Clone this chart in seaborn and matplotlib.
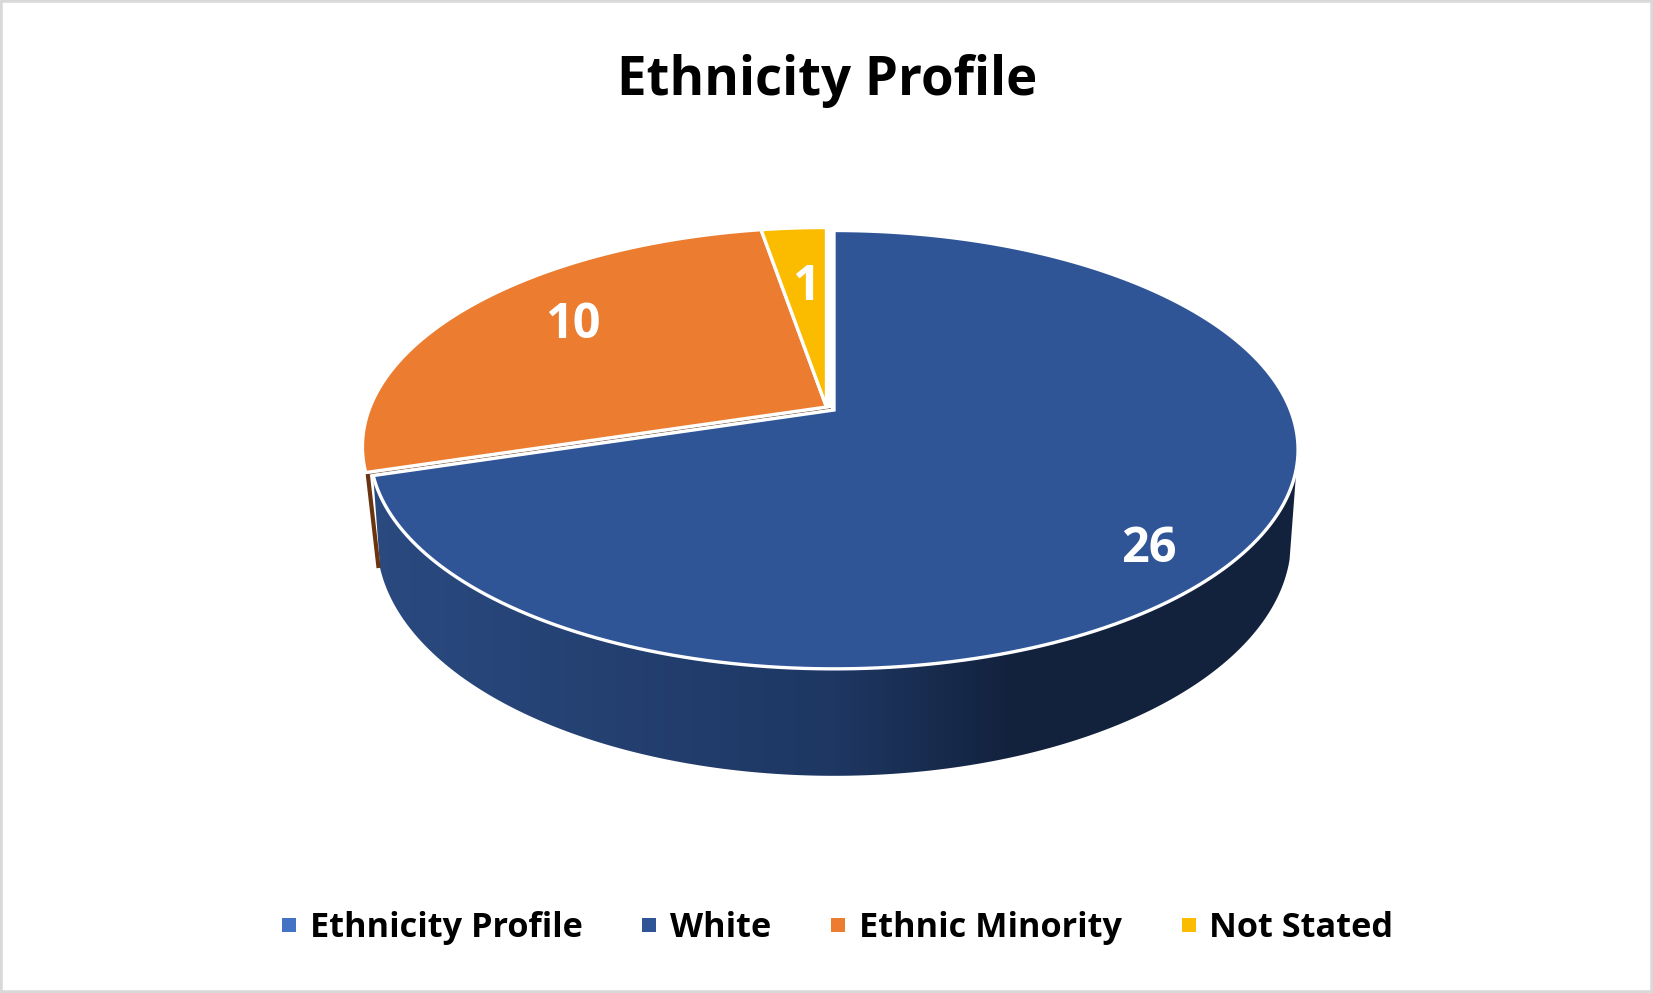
import numpy as np
import matplotlib
matplotlib.use("Agg")
import matplotlib.pyplot as plt
from matplotlib.colors import LinearSegmentedColormap
from matplotlib.lines import Line2D
from matplotlib.patches import Polygon
import seaborn as sns

# Survey counts
categories = ["Ethnicity Profile", "White", "Ethnic Minority", "Not Stated"]
counts = [0, 26, 10, 1]
slice_colors = ["#4472C4", "#2F5597", "#EB7C30", "#FBBC00"]

sns.set_theme(style="white")
plt.rcParams["font.family"] = ["Open Sans", "DejaVu Sans"]
palette = sns.color_palette(slice_colors)

W, H = 1653, 993
fig, ax = plt.subplots(figsize=(W / 100, H / 100), dpi=100)
fig.subplots_adjust(0, 0, 1, 1)

# Perspective disc: unit circle seen from above and in front
RX, RY, PERSP = 456.4, 212.0, 0.181
DEPTH, BASE_SHRINK = 87.6, 0.985


def rim(theta, r=1.0):
    """Screen offsets of a disc point; theta runs clockwise from twelve o'clock."""
    x, y = r * np.sin(theta), r * np.cos(theta)
    s = 1 / (1 + PERSP * y)
    return RX * x * s, -RY * y * s, s


def wedge(apex, t0, t1):
    t = np.linspace(t0, t1, 200)
    dx, dy, _ = rim(t)
    return np.column_stack([np.r_[apex[0], apex[0] + dx], np.r_[apex[1], apex[1] + dy]])


total = sum(counts)
edges = np.r_[0, np.cumsum(np.array(counts[1:]) / total * 2 * np.pi)]
main_apex = (834, 410)
small_apex = (826.5, 407)

# Side wall of the large slice, shaded from left to right
t_wall = np.linspace(np.radians(105), edges[1], 300)
dx, dy, s = rim(t_wall)
top = np.column_stack([main_apex[0] + dx, main_apex[1] + dy])
bottom = np.column_stack([main_apex[0] + dx * BASE_SHRINK, main_apex[1] + dy + DEPTH * s])
wall = Polygon(np.vstack([top, bottom[::-1]]), closed=True, facecolor="none", edgecolor="none")
ax.add_patch(wall)
shade = LinearSegmentedColormap.from_list(
    "wall", [(0, "#2A4A80"), (0.5, "#1E3763"), (0.7, "#12213C"), (1, "#12213C")]
)
im = ax.imshow(
    np.linspace(0, 1, 256).reshape(1, -1), cmap=shade, aspect="auto",
    extent=(370, 1300, 800, 440), zorder=1,
)
im.set_clip_path(wall)

# Thin wall of the orange slice showing behind the large slice
ox, oy, os_ = rim(edges[1])
ax.plot(
    [small_apex[0] + ox + 2, small_apex[0] + ox * BASE_SHRINK + 6],
    [small_apex[1] + oy + 1, small_apex[1] + oy + DEPTH * os_ + 3],
    color="#6B3410", lw=3, solid_capstyle="butt", zorder=2,
)
ax.plot(
    [small_apex[0] + 4, small_apex[0] + ox + 4],
    [small_apex[1] + 1.5, small_apex[1] + oy + 1.5],
    color="#8A6A58", lw=0.9, zorder=2,
)

# Top faces
spans = [
    (main_apex, edges[0], edges[1], palette[1]),
    (small_apex, edges[1], edges[2], palette[2]),
    (small_apex, edges[2], edges[3], palette[3]),
]
for apex, t0, t1, color in spans:
    ax.add_patch(Polygon(wedge(apex, t0, t1), closed=True, facecolor=color,
                         edgecolor="white", lw=2.4, joinstyle="miter", zorder=3))

# Value labels
label_spots = {"White": (1149, 550), "Ethnic Minority": (573, 326), "Not Stated": (806, 288)}
for name, value in zip(categories, counts):
    if value:
        ax.text(*label_spots[name], str(value), color="white", fontsize=35, fontweight="bold",
                ha="center", va="center", zorder=4)

ax.text(827, 81, "Ethnicity Profile", color="black", fontsize=38, fontweight="bold",
        ha="center", va="center", zorder=4)

handles = [Line2D([], [], ls="none", marker="s", ms=9.5, mfc=c, mec=c, mew=0) for c in palette]
ax.legend(handles, categories, ncol=4, loc="center", bbox_to_anchor=(836 / W, 1 - 928 / H),
          frameon=False, prop={"size": 24.7, "weight": "bold"}, handlelength=0.6,
          handletextpad=0.3, columnspacing=1.65, labelcolor="black")

ax.set_xlim(0, W)
ax.set_ylim(H, 0)
ax.set_xticks([])
ax.set_yticks([])
ax.grid(False)
for spine in ax.spines.values():
    spine.set_color("#D9D9D9")
    spine.set_linewidth(4)

fig.savefig("out.png", dpi=100, facecolor="white")
